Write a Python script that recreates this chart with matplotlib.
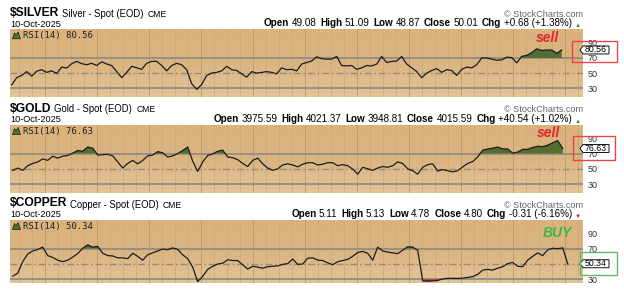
import numpy as np
import matplotlib
matplotlib.use("Agg")
import matplotlib.pyplot as plt
from matplotlib.colors import LinearSegmentedColormap
from matplotlib.patches import Polygon, Rectangle
from matplotlib.text import Annotation

plt.rcParams["font.family"] = ["Liberation Sans", "DejaVu Sans"]

# RSI(14) readings, roughly every other trading day
silver_rsi = [34.5, 44, 47, 52, 46, 52.5, 54.5, 51, 53, 49.5,
              58, 56.7, 62.5, 65.5, 62.5, 61, 63, 60, 65, 62,
              60, 52, 44, 51, 59, 57, 55, 63, 65.5, 65.5,
              60, 53, 60, 63, 61, 54.5, 36, 28.7, 35, 47,
              50, 51, 53, 59, 54.5, 53.5, 49, 44.7, 52, 50,
              51, 52, 51, 49, 57, 54.5, 55, 53, 62, 64,
              66, 71.5, 69, 68.5, 68.5, 72, 60, 59.5, 60, 55,
              57, 60, 59.5, 62, 72, 64, 65.5, 66, 72, 62,
              57, 52, 44, 50, 53.5, 56, 51, 54.5, 53.5, 47,
              55, 58, 57, 61, 70, 70, 68.5, 67, 67.5, 71,
              70.5, 63.5, 72, 73.5, 77, 82, 80, 80.5, 80.5, 76,
              80.56]
gold_rsi = [47.8, 51, 48, 54, 57, 59, 63, 61, 66.5, 64,
            66.5, 67.5, 70.5, 74, 73, 78.5, 77, 68, 68.5, 69,
            67, 59, 51, 57, 61, 56.5, 61, 67, 68, 72.5,
            71, 65.5, 67, 70, 74, 78.5, 60, 46.5, 59, 67.5,
            69.5, 73, 74.5, 65.5, 64.5, 62, 57, 53, 61, 64,
            56.5, 51, 48, 50, 55, 56.5, 55, 52.5, 56, 58,
            58, 55, 56, 58, 58, 54, 55.5, 54, 49.5, 43,
            52, 50, 48, 51, 53, 52, 54, 59, 57, 50,
            47.5, 43, 52, 55.5, 56.5, 47, 49, 47.5, 46, 47.5,
            52.5, 57, 59.5, 65.5, 74.5, 76, 77, 78.5, 76, 76,
            70.5, 72, 75.5, 75.5, 78, 79.5, 79, 81, 84, 87,
            76.63]
copper_rsi = [34, 38, 53, 63, 67, 69, 72, 61, 58.5, 55,
              53, 55, 59, 63.5, 70.5, 75, 72, 73, 64, 61,
              60.5, 58, 58, 57, 64, 60, 55, 62, 64.5, 67,
              69.5, 68.7, 71, 69, 62, 57, 46, 27, 34, 43,
              47, 50, 51, 55.5, 54.5, 54.5, 49, 43.5, 47, 46,
              44.5, 46.5, 47, 47.5, 49.5, 50.5, 56.5, 49.5, 50, 57.5,
              58, 55, 54.5, 51.5, 49, 53, 54.5, 56, 60, 65,
              66.4, 64, 55, 72, 67, 65.5, 64.5, 63.5, 68, 72.5,
              72, 68, 28, 27.5, 27.8, 28.5, 30.5, 31.3, 31.3, 31.2,
              31.5, 32.5, 33.5, 36.5, 42, 43, 42, 44.5, 46.5, 50.5,
              52, 47, 46.5, 55, 60, 64.5, 61, 68.5, 70.5, 70,
              71, 50.34]

symbols = ["$SILVER", "$GOLD", "$COPPER"]
names = ["Silver - Spot (EOD)", "Gold - Spot (EOD)", "Copper - Spot (EOD)"]
exchange = "CME"
date_label = "10-Oct-2025"
quotes = [
    [("Open", "49.08"), ("High", "51.09"), ("Low", "48.87"), ("Close", "50.01"), ("Chg", "+0.68 (+1.38%)")],
    [("Open", "3975.59"), ("High", "4021.37"), ("Low", "3948.81"), ("Close", "4015.59"), ("Chg", "+40.54 (+1.02%)")],
    [("Open", "5.11"), ("High", "5.13"), ("Low", "4.78"), ("Close", "4.80"), ("Chg", "-0.31 (-6.16%)")],
]
went_up = [True, True, False]
signals = ["sell", "sell", "BUY"]
rsi_ticks = [30, 50, 70, 90]

# layout in image pixels (624 x 295, origin top-left)
W, H = 624, 295
panels = [(10, 29.3, 583, 97.0), (10, 125.0, 583, 193.3), (10, 220.0, 583, 282.7)]
ylims = [(18.5, 107.8), (17.9, 107.4), (25.6, 107.4)]
first_px = [11.7, 12.7, 12.7]
step_px = 5.0
signal_pos = [(547, 38), (548, 133), (557, 233)]
signal_col = ["#E3262B", "#E3262B", "#3DB54A"]
boxes = [(572, 41, 617, 62, "#E8454A"), (573, 136, 615, 160, "#E8454A"), (580, 252, 617, 275, "#5DBB63")]
week_px = 13.0


def fp(x, y):
    return (x / W, 1 - y / H)


fig = plt.figure(figsize=(W / 100, H / 100), dpi=100)
tan = LinearSegmentedColormap.from_list("tan", ["#E2C497", "#DBB581", "#DAB27E"])


def text_after(prev, s, gap, **kw):
    a = Annotation(s, xy=(1, 0), xycoords=prev, xytext=(gap, 0), textcoords="offset points",
                   ha="left", va="bottom", annotation_clip=False, **kw)
    fig.add_artist(a)
    return a


def text_before(prev, s, gap, **kw):
    a = Annotation(s, xy=(0, 0), xycoords=prev, xytext=(-gap, 0), textcoords="offset points",
                   ha="right", va="bottom", annotation_clip=False, **kw)
    fig.add_artist(a)
    return a


series = [silver_rsi, gold_rsi, copper_rsi]
for i, vals in enumerate(series):
    vals = np.array(vals)
    x = np.arange(len(vals))
    l, t, r, b = panels[i]
    ax = fig.add_axes([l / W, 1 - b / H, (r - l) / W, (b - t) / H])
    x0 = first_px[i]
    xlim = ((l - x0) / step_px, (r - x0) / step_px)
    ax.imshow(np.linspace(0, 1, 50).reshape(-1, 1), cmap=tan, aspect="auto", origin="lower",
              extent=[xlim[0], xlim[1], ylims[i][0], ylims[i][1]], zorder=0)
    ax.set_xlim(*xlim)
    ax.set_ylim(*ylims[i])

    # weekly / monthly grid
    for k in range(-30, 30):
        gx = 305 + k * week_px
        if l < gx < r:
            major = k % 4 == 0
            ax.axvline((gx - x0) / step_px, color="#C49C6A" if major else "#D0A874",
                       lw=0.7 if major else 0.55, zorder=1)
    ax.axhline(70, color="#938C84", lw=1.3, zorder=2)
    ax.axhline(30, color="#938C84", lw=1.3, zorder=2)
    ax.axhline(50, color="#938C84", lw=1.0, ls=(0, (5, 2, 1.2, 2)), zorder=2)

    ax.fill_between(x, vals, 70, where=vals > 70, interpolate=True, color="#556D30", lw=0, zorder=3)
    ax.fill_between(x, vals, 30, where=vals < 30, interpolate=True, color="#A8342C", lw=0, zorder=3)
    ax.plot(x, vals, color="#1C1C1C", lw=0.9, zorder=4)

    for s in ax.spines.values():
        s.set_visible(False)
    ax.set_xticks([])
    ax.yaxis.tick_right()
    ticks = [v for v in rsi_ticks if abs(v - vals[-1]) > 5]
    ax.set_yticks(ticks)
    ax.tick_params(axis="y", length=0, pad=3, labelsize=6.5, labelcolor="#333333")

    ax.annotate(f"RSI(14) {vals[-1]:.2f}", xy=(0, 1), xycoords="axes fraction",
                xytext=(9.3, -4.4), textcoords="offset points", ha="left", va="center",
                fontsize=6.5, family="DejaVu Sans Mono", color="#222222", zorder=6)
    ix, iy = l + 2.5, t + 9.5
    icon = [fp(ix, iy), fp(ix + 2, iy - 6), fp(ix + 3.5, iy - 3.5), fp(ix + 5.5, iy - 7),
            fp(ix + 8, iy)]
    fig.add_artist(Polygon(icon, closed=True, facecolor="#4C7A2C", edgecolor="#1A1A1A", lw=0.5))

    # title row
    t1 = fig.text(*fp(10, t - 10.5), symbols[i], fontsize=8.7, fontweight="bold", ha="left", va="bottom")
    t2 = text_after(t1, names[i], 2.0, fontsize=6.85)
    text_after(t2, exchange, 3.0, fontsize=6.2)
    fig.text(*fp(r, t - 10.5), "\u00a9 StockCharts.com", fontsize=6.6, color="#666666", ha="right", va="bottom")
    fig.text(*fp(10, t - 0.6), date_label, fontsize=6.6, ha="left", va="bottom")

    # quote row, built right to left
    tri = "\u25b2" if went_up[i] else "\u25bc"
    tri_col = "#2E9A3A" if went_up[i] else "#C0202A"
    prev = fig.text(*fp(r - 2, t - 1.0), tri, fontsize=4.5, color=tri_col, ha="right", va="bottom")
    gap = 2.2
    for lab, val in reversed(quotes[i]):
        prev = text_before(prev, val, gap, fontsize=7.1)
        prev = text_before(prev, lab, 1.8, fontsize=7.1, fontweight="bold")
        gap = 2.8

    # current value flag
    disp = ax.transData.transform((0, vals[-1]))
    yf = fig.transFigure.inverted().transform(disp)[1]
    hh = 4.0 / H
    flag = [(580 / W, yf), (583 / W, yf + hh), (609 / W, yf + hh), (609 / W, yf - hh), (583 / W, yf - hh)]
    fig.add_artist(Polygon(flag, closed=True, facecolor="white", edgecolor="#111111", lw=0.7, zorder=5))
    fig.text(596 / W, yf, f"{vals[-1]:.2f}", fontsize=6.3, ha="center", va="center", zorder=6)

    sx, sy = signal_pos[i]
    fig.text(*fp(sx, sy), signals[i], fontsize=10, fontweight="bold", fontstyle="italic",
             color=signal_col[i], ha="center", va="center")

    bx0, by0, bx1, by1, bc = boxes[i]
    fig.add_artist(Rectangle(fp(bx0, by1), (bx1 - bx0) / W, (by1 - by0) / H, fill=False,
                             edgecolor=bc, lw=1.0, zorder=7))

fig.savefig("out.png", dpi=100)
